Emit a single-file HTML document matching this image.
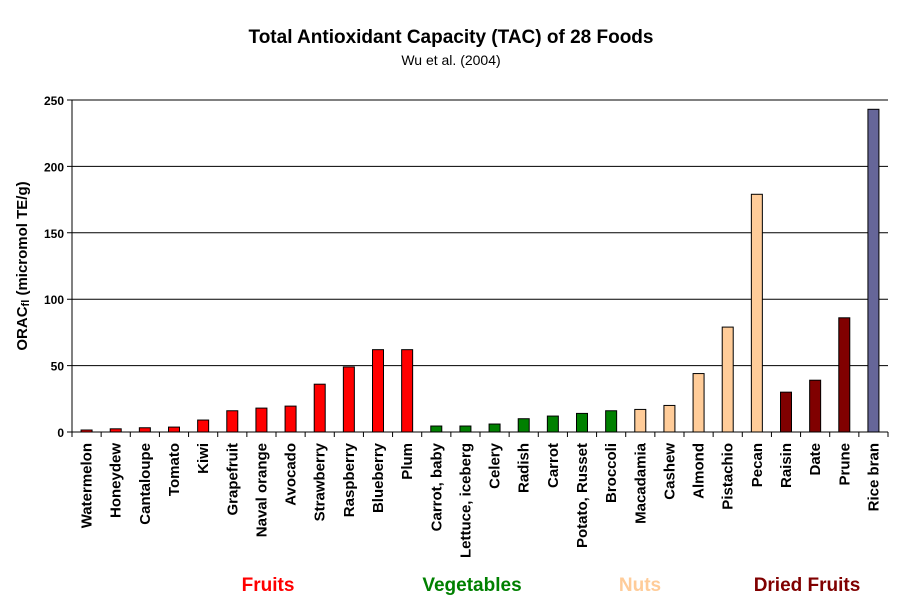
<!DOCTYPE html>
<html><head><meta charset="utf-8"><style>
body{margin:0;background:#fff;font-family:"Liberation Sans",Arial,sans-serif;}
svg text{font-family:"Liberation Sans",Arial,sans-serif;}
</style></head><body>
<svg id="chart" width="903" height="604" viewBox="0 0 903 604" xmlns="http://www.w3.org/2000/svg">
<text x="451" y="43" text-anchor="middle" font-size="19" font-weight="bold">Total Antioxidant Capacity (TAC) of 28 Foods</text>
<text x="451" y="65" text-anchor="middle" font-size="14">Wu et al. (2004)</text>
<text transform="translate(27,266) rotate(-90)" text-anchor="middle" font-size="15" font-weight="bold">ORAC<tspan font-size="11" dy="2">fl</tspan><tspan dy="-2"> (micromol TE/g)</tspan></text>
<g id="grid"></g><g id="bars"></g><g id="axes"></g><g id="labels"></g>
<text x="268" y="591" text-anchor="middle" font-size="19" font-weight="bold" fill="#FF0000">Fruits</text>
<text x="472" y="591" text-anchor="middle" font-size="19" font-weight="bold" fill="#008000">Vegetables</text>
<text x="640" y="591" text-anchor="middle" font-size="19" font-weight="bold" fill="#FFCC99">Nuts</text>
<text x="807" y="591" text-anchor="middle" font-size="19" font-weight="bold" fill="#800000">Dried Fruits</text>
</svg>
<script>
const categories=["Watermelon","Honeydew","Cantaloupe","Tomato","Kiwi","Grapefruit","Naval orange","Avocado","Strawberry","Raspberry","Blueberry","Plum","Carrot, baby","Lettuce, iceberg","Celery","Radish","Carrot","Potato, Russet","Broccoli","Macadamia","Cashew","Almond","Pistachio","Pecan","Raisin","Date","Prune","Rice bran"];
const values=[1.5,2.4,3.2,3.7,9,16,18,19.5,36,49,62,62,4.5,4.5,6,10,12,14,16,17,20,44,79,179,30,39,86,243];
const groups=["fruit","fruit","fruit","fruit","fruit","fruit","fruit","fruit","fruit","fruit","fruit","fruit","veg","veg","veg","veg","veg","veg","veg","nut","nut","nut","nut","nut","dried","dried","dried","bran"];
const yTicks=[0,50,100,150,200,250];
const colors={fruit:"#FF0000",veg:"#008000",nut:"#FFCC99",dried:"#800000",bran:"#666699"};
const NS="http://www.w3.org/2000/svg";
const L=72,R=888,T=100,B=432,yMax=250;
const step=(R-L)/categories.length;
const y=v=>B-(v/yMax)*(B-T);
const x=i=>L+step*(i+0.5);
function mk(tag,attrs,parent){const e=document.createElementNS(NS,tag);for(const k in attrs)e.setAttribute(k,attrs[k]);document.getElementById(parent).appendChild(e);return e;}
yTicks.forEach(t=>{
  const g=mk("line",{x1:L-5,x2:R,y1:y(t),y2:y(t),stroke:"#000","stroke-width":1},"grid");
  
  
  const lb=mk("text",{x:L-8,y:y(t)+5,"text-anchor":"end","font-size":"12","font-weight":"bold"},"axes");
  lb.textContent=t;
  
  
});
const ax=mk("line",{x1:L,x2:L,y1:T,y2:B,stroke:"#000"},"axes");


categories.forEach((c,i)=>{
  const bw=11;
  const r=mk("rect",{x:x(i)-bw/2,y:y(values[i]),width:bw,height:B-y(values[i]),fill:colors[groups[i]],stroke:"#000","stroke-width":1},"bars");
  
  
  const tk=mk("line",{x1:L+step*i,x2:L+step*i,y1:B,y2:B+5,stroke:"#000"},"axes");
  
  
  const t=mk("text",{transform:`translate(${x(i)+5},443) rotate(-90)`,"text-anchor":"end","font-size":"15","font-weight":"bold"},"labels");
  t.textContent=c;
  
  
});
const tk=mk("line",{x1:R,x2:R,y1:B,y2:B+5,stroke:"#000"},"axes");


const xa=mk("line",{x1:L,x2:R,y1:B,y2:B,stroke:"#000"},"axes");


</script>
</body></html>
